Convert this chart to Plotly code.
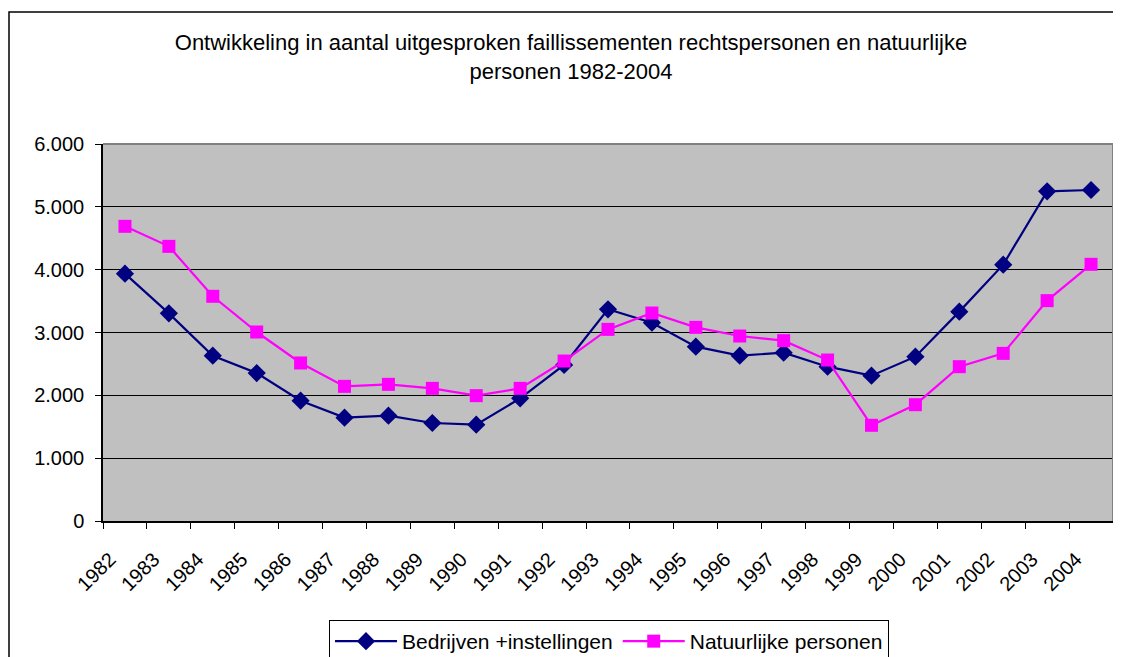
import plotly.graph_objects as go

years = [str(y) for y in range(1982, 2005)]
bedrijven = [3936, 3305, 2631, 2355, 1915, 1645, 1676, 1560, 1533, 1952, 2483, 3369, 3156,
             2775, 2631, 2679, 2456, 2313, 2615, 3332, 4080, 5247, 5268]
natuurlijk = [4690, 4371, 3576, 3008, 2515, 2143, 2175, 2111, 1995, 2111, 2546, 3050, 3310,
              3082, 2944, 2870, 2562, 1523, 1851, 2456, 2668, 3507, 4085]
ytickvals = [0, 1000, 2000, 3000, 4000, 5000, 6000]
yticktext = ["0", "1.000", "2.000", "3.000", "4.000", "5.000", "6.000"]

# page body has an 8px margin, so the figure is drawn 8px in from the top-left
OFF = 8
W, H = 1121 - OFF, 657 - OFF
FONT = "Liberation Sans, Arial, sans-serif"


def px(x):
    return (x - OFF) / W


def py(y):
    return (H - (y - OFF)) / H


fig = go.Figure()
fig.add_trace(go.Scatter(
    x=years, y=bedrijven, name="Bedrijven +instellingen", mode="lines+markers",
    line=dict(color="#000080", width=2.2),
    marker=dict(symbol="diamond", size=14, color="#000080"),
))
fig.add_trace(go.Scatter(
    x=years, y=natuurlijk, name="Natuurlijke personen", mode="lines+markers",
    line=dict(color="#FF00FF", width=2.2),
    marker=dict(symbol="square", size=13, color="#FF00FF"),
))

x0, x1 = px(103), px(1113)
y0, y1 = py(521), py(144)

fig.update_layout(
    width=W, height=H,
    margin=dict(l=0, r=0, t=0, b=0, autoexpand=False),
    paper_bgcolor="white",
    plot_bgcolor="#C0C0C0",
    font=dict(family=FONT, size=20, color="black"),
    title=dict(
        text="Ontwikkeling in aantal uitgesproken faillissementen rechtspersonen en natuurlijke<br>personen 1982-2004",
        x=px(571), xanchor="center", y=1 - 42 / H, yanchor="top",
        font=dict(family=FONT, size=22, color="black"),
        automargin=False,
    ),
    xaxis=dict(
        domain=[x0, x1], type="category", range=[-0.5, 22.5], tickangle=-45, automargin=False,
        showgrid=False, showline=True, linecolor="black", linewidth=1.5,
        ticks="outside", ticklen=6, tickcolor="black", tickson="boundaries",
        ticklabelstandoff=17, ticklabelshift=-15,
        tickfont=dict(family=FONT, size=20, color="black"),
    ),
    yaxis=dict(
        domain=[y0, y1], range=[0, 6000], automargin=False,
        tickvals=ytickvals, ticktext=yticktext,
        showgrid=True, gridcolor="black", gridwidth=1,
        showline=True, linecolor="black", linewidth=1.5,
        ticks="outside", ticklen=6, tickcolor="black",
        ticklabelstandoff=7,
        zeroline=False,
        tickfont=dict(family=FONT, size=20, color="black"),
    ),
    legend=dict(
        orientation="h", x=px(609), xanchor="center", y=py(620), yanchor="top",
        bordercolor="black", borderwidth=1, bgcolor="white",
        font=dict(family=FONT, size=21, color="black"),
        itemwidth=62, tracegroupgap=0,
    ),
    showlegend=True,
    shapes=[
        dict(type="rect", xref="paper", yref="paper", x0=1 / W, x1=1.02, y0=-0.02, y1=py(12),
             line=dict(color="black", width=1.5), fillcolor="rgba(0,0,0,0)", layer="below"),
        dict(type="line", xref="paper", yref="paper", x0=x0, x1=x1, y0=y1, y1=y1,
             line=dict(color="#808080", width=2)),
        dict(type="line", xref="paper", yref="paper", x0=x1, x1=x1, y0=y0, y1=y1,
             line=dict(color="#808080", width=2)),
    ],
)

fig.write_html("out.html")
